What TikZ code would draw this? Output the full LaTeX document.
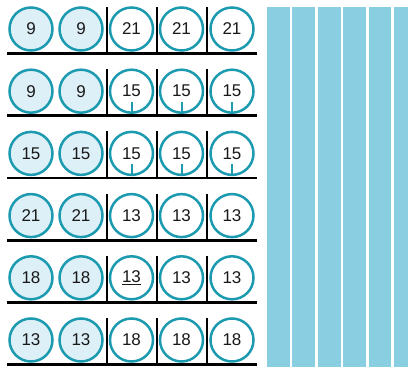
\documentclass[tikz,border=0pt]{standalone}
\usepackage{fontspec}
\setmainfont{Liberation Sans}
\definecolor{ring}{HTML}{1C9AB0}
\definecolor{lightfill}{HTML}{DDEFF7}
\definecolor{barblue}{HTML}{8ACFE1}
\newcommand\thickul[1]{\setbox0\hbox{#1}\rlap{\rule[-3pt]{\wd0}{1.6pt}}\box0}
\begin{document}
\begin{tikzpicture}[x=1pt,y=-1pt,
  ball/.style={circle,draw=ring,line width=2.5pt,minimum size=43pt,inner sep=0pt,font=\fontsize{17}{17}\selectfont,text=black!90},
  shaded/.style={ball,fill=lightfill},
  plain/.style={ball,fill=white},
  baseln/.style={line width=2.8pt,black},
  divider/.style={line width=1.8pt,black},
  tick/.style={line width=2pt,ring},
  bar/.style={fill=barblue,draw=none}]
\useasboundingbox (0,0) rectangle (408,367);
% bars
\begin{scope}
\clip (0,0) rectangle (408,367);
\foreach \k in {0,...,5}{
  \fill[barblue] ({267+25.45*\k},7) rectangle ({267+25.45*\k+22.6},367);
}
\end{scope}
% rows
\foreach \r/\a/\b/\c/\d/\e/\t in {1/9/9/21/21/21/0,2/9/9/15/15/15/1,3/15/15/15/15/15/1,4/21/21/13/13/13/0,5/18/18/\thickul{13}/13/13/0,6/13/13/18/18/18/0}{
  \pgfmathsetmacro{\cy}{29+62.2*(\r-1)}
  \coordinate (bl\r) at (7,\cy+24.6);
  \coordinate (br\r) at (257,\cy+24.6);
  \foreach \dx in {107,157,207}{
    \draw[divider] (\dx,\cy-22) -- (\dx,\cy+24.6);
  }
  \draw[baseln] (bl\r) -- (br\r);
  \node[shaded] (n\r a) at (31,\cy) {\a};
  \node[shaded] (n\r b) at (81,\cy) {\b};
  \node[plain] (n\r c) at (131.5,\cy) {\c};
  \node[plain] (n\r d) at (181.5,\cy) {\d};
  \node[plain] (n\r e) at (232,\cy) {\e};
  \ifnum\t=1
    \foreach \n in {c,d,e}{
      \draw[tick] ([yshift=-11pt]n\r\n.center) -- ([yshift=-21pt]n\r\n.center);
    }
  \fi
}
\end{tikzpicture}
\end{document}
